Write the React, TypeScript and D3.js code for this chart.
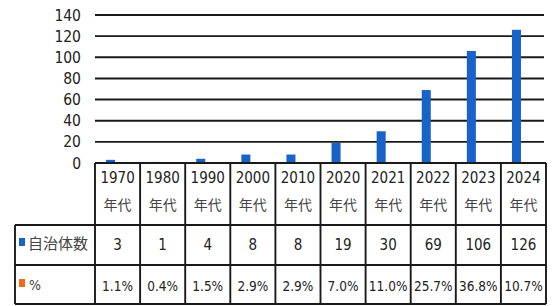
import React from "react";
import * as d3 from "d3";

const categories = ["1970", "1980", "1990", "2000", "2010", "2020", "2021", "2022", "2023", "2024"];
const categorySuffix = "年代";
const seriesNames = ["自治体数", "%"];
const counts = [3, 1, 4, 8, 8, 19, 30, 69, 106, 126];
const pctValues = [1.1, 0.4, 1.5, 2.9, 2.9, 7.0, 11.0, 25.7, 36.8, 10.7];
const yTicks = [0, 20, 40, 60, 80, 100, 120, 140];
const seriesColors = ["#1763c9", "#ee6a1f"];

const W = 554;
const H = 306;
const plotLeft = 95;
const plotRight = 546;
const plotTop = 15;
const plotBottom = 163;
const legendLeft = 15;
const headerBottom = 225;
const row2Bottom = 265;
const row3Bottom = 304;

const FONT = "'Liberation Sans Narrow', 'DejaVu Sans Condensed', 'Noto Sans CJK JP', sans-serif";
const CJK = "'Noto Sans CJK JP', sans-serif";

export default function App() {
  const x = d3.scaleBand<string>().domain(categories).range([plotLeft, plotRight]).padding(0);
  const bw = x.bandwidth();
  const x1 = d3.scaleBand<string>().domain(seriesNames).range([bw * 0.245, bw * 0.645]).padding(0);
  const y = d3.scaleLinear().domain([0, 140]).range([plotBottom, plotTop]);
  const stroke = "#1a1a1a";
  const sw = 1.9;
  const boundaries = d3.range(categories.length + 1).map((i) => (i < categories.length ? (x(categories[i]) as number) : plotRight));

  return (
    <svg width={W} height={H} style={{ position: "fixed", left: 0, top: 0, background: "#fff" }}>
      <rect x={0} y={0} width={W} height={H} fill="#fff" />
      {yTicks.filter((t) => t > 0).map((t) => (
        <line key={t} x1={plotLeft} x2={plotRight - 2} y1={y(t)} y2={y(t)} stroke={stroke} strokeWidth={sw} />
      ))}
      {yTicks.map((t) => (
        <text key={t} x={81} y={y(t)} dy="0.36em" textAnchor="end" fontSize={15.5} fontFamily={FONT} fill="#222">
          {t}
        </text>
      ))}
      {categories.map((c, i) => (
        <rect
          key={c}
          x={(x(c) as number) + (x1(seriesNames[0]) as number)}
          width={x1.bandwidth()}
          y={y(counts[i])}
          height={plotBottom - y(counts[i])}
          fill={seriesColors[0]}
        />
      ))}
      {categories.map((c, i) => (
        <rect
          key={"p" + c}
          x={(x(c) as number) + (x1(seriesNames[1]) as number)}
          width={x1.bandwidth()}
          y={y(pctValues[i] / 100)}
          height={plotBottom - y(pctValues[i] / 100)}
          fill={seriesColors[1]}
        />
      ))}
      <line x1={plotLeft} x2={plotRight} y1={plotBottom} y2={plotBottom} stroke={stroke} strokeWidth={sw} />
      <line x1={legendLeft} x2={plotRight} y1={headerBottom} y2={headerBottom} stroke={stroke} strokeWidth={sw} />
      <line x1={legendLeft} x2={plotRight} y1={row2Bottom} y2={row2Bottom} stroke={stroke} strokeWidth={sw} />
      <line x1={legendLeft} x2={plotRight} y1={row3Bottom} y2={row3Bottom} stroke={stroke} strokeWidth={sw} />
      {boundaries.map((bx, i) => (
        <line key={i} x1={bx} x2={bx} y1={plotBottom} y2={row3Bottom} stroke={stroke} strokeWidth={sw} />
      ))}
      <line x1={legendLeft} x2={legendLeft} y1={headerBottom} y2={row3Bottom} stroke={stroke} strokeWidth={sw} />
      {categories.map((c) => {
        const cx = (x(c) as number) + bw / 2;
        return (
          <g key={"h" + c}>
            <text x={cx} y={178} dy="0.36em" textAnchor="middle" fontSize={15} fontFamily={FONT} fill="#222">
              {c}
            </text>
            <text x={cx} y={205} dy="0.36em" textAnchor="middle" fontSize={14} fontFamily={CJK} fill="#444">
              {categorySuffix}
            </text>
          </g>
        );
      })}
      <rect x={19} y={238} width={6} height={8} fill={seriesColors[0]} />
      <text x={28} y={244} dy="0.36em" fontSize={15} fontFamily={CJK} fill="#444">
        {seriesNames[0]}
      </text>
      <rect x={19} y={279} width={6} height={8} fill={seriesColors[1]} />
      <text x={29} y={285} dy="0.36em" fontSize={14} fontFamily={FONT} fill="#444">
        {seriesNames[1]}
      </text>
      {categories.map((c, i) => {
        const cx = (x(c) as number) + bw / 2;
        return (
          <g key={"v" + c}>
            <text x={cx} y={245} dy="0.36em" textAnchor="middle" fontSize={15} fontFamily={FONT} fill="#222">
              {counts[i]}
            </text>
            <text x={cx} y={286} dy="0.36em" textAnchor="middle" fontSize={13.5} fontFamily={FONT} fill="#222">
              {pctValues[i].toFixed(1) + "%"}
            </text>
          </g>
        );
      })}
    </svg>
  );
}
